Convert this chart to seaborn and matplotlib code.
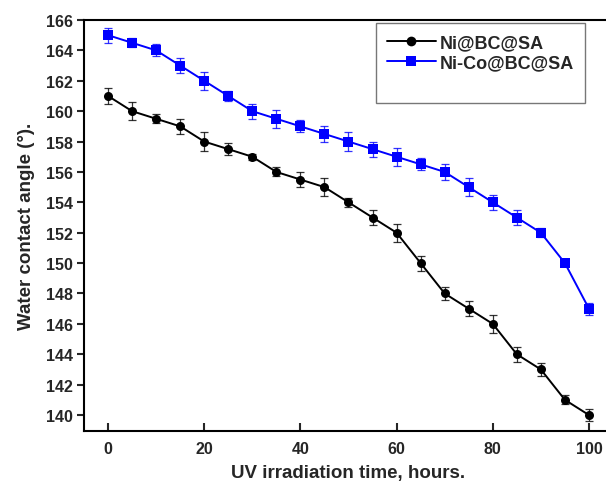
import numpy as np
import pandas as pd
import matplotlib
matplotlib.use("Agg")
import matplotlib.pyplot as plt
import seaborn as sns
from matplotlib.lines import Line2D

hours = [0, 5, 10, 15, 20, 25, 30, 35, 40, 45, 50, 55, 60, 65, 70, 75, 80, 85, 90, 95, 100]
ni_bc_sa = [161, 160, 159.5, 159, 158, 157.5, 157, 156, 155.5, 155, 154, 153, 152, 150, 148, 147, 146, 144, 143, 141, 140]
ni_bc_sa_err = [0.5, 0.6, 0.3, 0.5, 0.6, 0.4, 0.2, 0.3, 0.5, 0.6, 0.3, 0.5, 0.6, 0.5, 0.4, 0.5, 0.6, 0.5, 0.4, 0.3, 0.4]
nico_bc_sa = [165, 164.5, 164, 163, 162, 161, 160, 159.5, 159, 158.5, 158, 157.5, 157, 156.5, 156, 155, 154, 153, 152, 150, 147]
nico_bc_sa_err = [0.5, 0.3, 0.4, 0.5, 0.6, 0.3, 0.5, 0.6, 0.4, 0.5, 0.6, 0.5, 0.6, 0.4, 0.5, 0.6, 0.5, 0.5, 0.3, 0.2, 0.4]
series_names = ["Ni@BC@SA", "Ni-Co@BC@SA"]
colors = ["#000000", "#0000FF"]
markers = ["o", "s"]

df = pd.DataFrame({
    "hours": hours * 2,
    "angle": ni_bc_sa + nico_bc_sa,
    "err": ni_bc_sa_err + nico_bc_sa_err,
    "series": [series_names[0]] * len(hours) + [series_names[1]] * len(hours),
})

sns.set_style("ticks")
plt.rcParams["font.family"] = ["Liberation Sans", "DejaVu Sans"]
plt.rcParams["font.weight"] = "bold"

fig = plt.figure(figsize=(6.06, 4.85), dpi=100)
ax = fig.add_axes([84 / 606, 1 - 432 / 485, (613 - 84) / 606, (432 - 21) / 485])

sns.lineplot(data=df, x="hours", y="angle", hue="series", style="series",
             palette=dict(zip(series_names, colors)),
             markers=dict(zip(series_names, markers)), dashes=False,
             markersize=6.5, markeredgewidth=0, linewidth=1.4, ax=ax, legend=False)

for name, col in zip(series_names, colors):
    sub = df[df["series"] == name]
    ax.errorbar(sub["hours"], sub["angle"], yerr=sub["err"], fmt="none",
                ecolor=col, elinewidth=0.9, capsize=2.8, capthick=0.9, alpha=0.8)

ax.set_xlim(-5, 105)
ax.set_ylim(138.95, 166)
ax.set_xticks([0, 20, 40, 60, 80, 100])
ax.set_yticks(np.arange(140, 167, 2))
ax.tick_params(axis="x", direction="in", length=6, width=1.5, labelsize=11.5, pad=7)
ax.tick_params(axis="y", direction="out", length=5, width=1.5, labelsize=11.5, pad=3)
for lab in ax.get_xticklabels() + ax.get_yticklabels():
    lab.set_fontweight("bold")
for s in ["left", "bottom", "top"]:
    ax.spines[s].set_linewidth(1.5)
    ax.spines[s].set_color("black")
ax.spines["right"].set_visible(False)

ax.set_xlabel("UV irradiation time, hours.", fontsize=13.5, fontweight="bold", labelpad=6)
ax.set_ylabel("Water contact angle (°).", fontsize=13.5, fontweight="bold", labelpad=8)

handles = [Line2D([], [], color=c, marker=m, markersize=7, linewidth=1.4, markeredgewidth=0)
           for c, m in zip(colors, markers)]
handles.append(Line2D([], [], color="none"))
leg = ax.legend(handles, series_names + [" "], loc="upper left",
                bbox_to_anchor=((376 - 84) / 529, (432 - 24) / 411), borderaxespad=0,
                handlelength=2.7, frameon=True, fancybox=False, edgecolor="#555555",
                borderpad=0.6, labelspacing=0.2, handletextpad=0.25,
                prop={"weight": "bold", "size": 13, "family": ["Liberation Sans"]})
leg.get_frame().set_linewidth(1.0)

fig.savefig("out.png", dpi=100)
